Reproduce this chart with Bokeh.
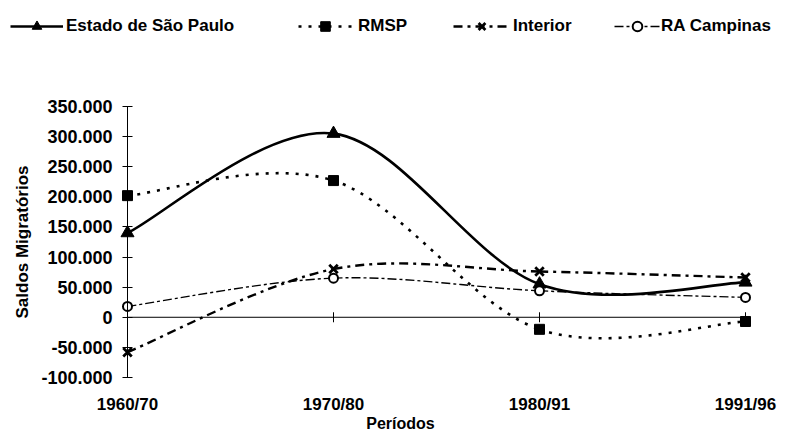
import math
from bokeh.plotting import figure
from bokeh.models import Range1d, LinearAxis, FixedTicker, Legend, LegendItem
from bokeh.embed import file_html
from bokeh.resources import INLINE

# ---- data (annual average net migration) ----
periods = ["1960/70", "1970/80", "1980/91", "1991/96"]
estado = [140000, 305000, 55000, 58000]
rmsp = [202000, 227000, -20000, -7000]
interior = [-58000, 80000, 76000, 66000]
campinas = [18000, 65000, 44000, 33000]
y_ticks = [-100000, -50000, 0, 50000, 100000, 150000, 200000, 250000, 300000, 350000]
series_names = ["Estado de São Paulo", "RMSP", "Interior", "RA Campinas"]

xs = list(range(len(periods)))
FONT = "Liberation Sans"

# ---- layout (pixels inside the figure) ----
W, H = 800, 433
AX_LEFT, AX_RIGHT = 127, 745        # first / last category
AX_TOP, AX_BOTTOM = 106, 377        # top / bottom y tick


def smooth_segments(x, y):
    """Excel-like smoothed line: cubic Bezier segments (Catmull-Rom control points)."""
    px = [x[0]] + list(x) + [x[-1]]
    py = [y[0]] + list(y) + [y[-1]]
    d = dict(x0=[], y0=[], x1=[], y1=[], cx0=[], cy0=[], cx1=[], cy1=[])
    for i in range(len(x) - 1):
        a, b, c, e = i, i + 1, i + 2, i + 3
        d["x0"].append(px[b]); d["y0"].append(py[b])
        d["x1"].append(px[c]); d["y1"].append(py[c])
        d["cx0"].append(px[b] + (px[c] - px[a]) / 6.0)
        d["cy0"].append(py[b] + (py[c] - py[a]) / 6.0)
        d["cx1"].append(px[c] - (px[e] - px[b]) / 6.0)
        d["cy1"].append(py[c] - (py[e] - py[b]) / 6.0)
    return d


ux = (xs[-1] - xs[0]) / (AX_RIGHT - AX_LEFT)
uy = (y_ticks[-1] - y_ticks[0]) / (AX_BOTTOM - AX_TOP)
x_range = Range1d(xs[0] - AX_LEFT * ux, xs[-1] + (W - AX_RIGHT) * ux)
y_range = Range1d(y_ticks[0] - (H - AX_BOTTOM) * uy, y_ticks[-1] + AX_TOP * uy)

p = figure(width=W, height=H, output_backend="svg", toolbar_location=None,
           x_range=x_range, y_range=y_range,
           x_axis_location=None, y_axis_location=None,
           min_border_left=0, min_border_right=0, min_border_top=0, min_border_bottom=0)
p.outline_line_color = None
p.xgrid.visible = False
p.ygrid.visible = False
p.background_fill_color = "white"
p.border_fill_color = "white"

# y axis at the first category
yax = LinearAxis(ticker=FixedTicker(ticks=y_ticks), fixed_location=xs[0],
                 bounds=(y_ticks[0], y_ticks[-1]),
                 major_label_overrides={t: f"{t:,}".replace(",", ".") for t in y_ticks})
yax.major_tick_in = 5
yax.major_tick_out = 5
yax.axis_line_color = "black"
yax.major_tick_line_color = "black"
yax.major_label_standoff = 10
yax.major_label_text_font = FONT
yax.major_label_text_font_style = "bold"
yax.major_label_text_font_size = "18px"
yax.major_label_text_color = "black"
yax.axis_label = "Saldos Migratórios"
yax.axis_label_text_font = FONT
yax.axis_label_text_font_style = "bold"
yax.axis_label_text_font_size = "17px"
yax.axis_label_text_color = "black"
yax.axis_label_standoff = 6
p.add_layout(yax, "left")

# category labels below the plot
bax = LinearAxis(ticker=FixedTicker(ticks=xs), fixed_location=y_ticks[0],
                 major_label_overrides={i: periods[i] for i in xs})
bax.axis_line_color = None
bax.major_tick_line_color = None
bax.major_tick_in = 0
bax.major_tick_out = 0
bax.major_label_standoff = 17
bax.major_label_text_font = FONT
bax.major_label_text_font_style = "bold"
bax.major_label_text_font_size = "17px"
bax.major_label_text_color = "black"
bax.axis_label = "Períodos"
bax.axis_label_text_font = FONT
bax.axis_label_text_font_style = "bold"
bax.axis_label_text_font_size = "16px"
bax.axis_label_text_color = "black"
bax.axis_label_standoff = -2
p.add_layout(bax, "below")

# zero line with category tick marks
zeros = [0] * len(xs)
p.line(xs, zeros, line_color="black", line_width=1)
p.scatter(xs[1:], zeros[1:], marker="dash", angle=math.pi / 2, size=10,
          line_color="black", line_width=1)

styles = [
    dict(data=estado, dash="solid", width=2.6, marker="triangle", size=13, fill="black", mlw=1),
    dict(data=rmsp, dash="3 7", width=2.6, marker="square", size=10, fill="black", mlw=1),
    dict(data=interior, dash="9 5 3 5", width=2.4, marker="x", size=12, fill="black", mlw=2.8),
    dict(data=campinas, dash="9 3 3 3", width=1.4, marker="circle", size=9, fill="white", mlw=2),
]

# legend entries: (glyph start x, glyph width, label standoff)
legend_pos = [(10, 53, 3), (298, 54, 6), (453, 57, 3), (614, 46, 1)]
LEG_CY = 26

for name, st, (lx, gw, so) in zip(series_names, styles, legend_pos):
    seg = smooth_segments(xs, st["data"])
    r_line = p.bezier(x0="x0", y0="y0", x1="x1", y1="y1", cx0="cx0", cy0="cy0",
                      cx1="cx1", cy1="cy1", source=seg, line_color="black",
                      line_width=st["width"], line_dash=st["dash"])
    r_mark = p.scatter(xs, st["data"], marker=st["marker"], size=st["size"],
                       fill_color=st["fill"], line_color="black", line_width=st["mlw"])
    leg = Legend(items=[LegendItem(label=name, renderers=[r_line, r_mark])],
                 orientation="horizontal", location=(lx, H - LEG_CY - 12))
    leg.glyph_width = gw
    leg.glyph_height = 24
    leg.label_standoff = so
    leg.padding = 0
    leg.margin = 0
    leg.border_line_color = None
    leg.background_fill_alpha = 0
    leg.label_text_font = FONT
    leg.label_text_font_style = "bold"
    leg.label_text_font_size = "17px"
    leg.label_text_color = "black"
    p.add_layout(leg, "center")

open("out.html", "w").write(file_html(p, INLINE))
